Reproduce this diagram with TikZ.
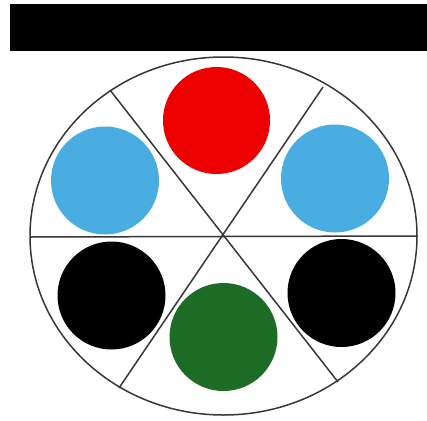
\documentclass[tikz,border=0pt]{standalone}
\definecolor{dotred}{RGB}{236,0,0}
\definecolor{dotblue}{RGB}{74,173,225}
\definecolor{dotgreen}{RGB}{28,108,38}
\definecolor{linegray}{RGB}{55,55,55}
\tikzset{
  dot/.style={circle, inner sep=0pt, minimum size=108pt, draw=none},
  divider/.style={draw=linegray, line width=1.5pt},
}
\begin{document}
\begin{tikzpicture}[x=1pt,y=-1pt]
\useasboundingbox (0,0) rectangle (427,420);
\fill[black] (10,4) rectangle (427,51);
% dots
\node[dot, fill=dotred, minimum size=107pt] (red) at (216.5,120.5) {};
\node[dot, fill=dotblue] (blueL) at (105,180.5) {};
\node[dot, fill=dotblue] (blueR) at (335,178.5) {};
\node[dot, fill=black] (blackL) at (111.5,295.5) {};
\node[dot, fill=black] (blackR) at (341.5,293) {};
\node[dot, fill=dotgreen] (green) at (223.5,337) {};
% dividers
\coordinate (c) at (222,236);
\coordinate (ul) at (110,90);
\coordinate (ur) at (323,87);
\coordinate (ll) at (119,388);
\coordinate (lr) at (338,382);
\coordinate (l) at (30,237);
\coordinate (r) at (417,236);
\draw[divider] (ul) -- (lr);
\draw[divider] (ur) -- (ll);
\draw[divider] (l) -- (r);
\draw[divider] (223.5,236) ellipse [x radius=193.5, y radius=179];
\end{tikzpicture}
\end{document}
